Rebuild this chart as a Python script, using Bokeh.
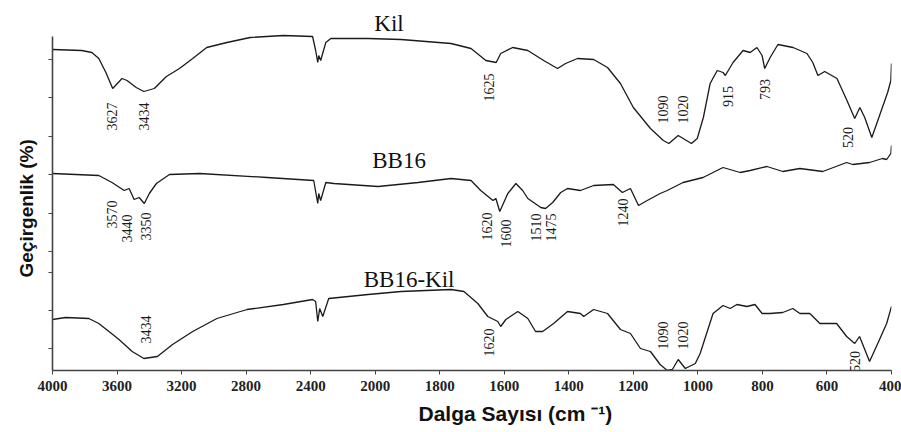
from math import pi
from bokeh.plotting import figure
from bokeh.models import (ColumnDataSource, Range1d, FixedTicker, CustomJSTransform, Title)
from bokeh.transform import transform
from bokeh.core.properties import value
from bokeh.embed import file_html
from bokeh.resources import INLINE

# ---------------- data (wavenumber cm-1, relative transmittance incl. stacking offset) -----
kil_wn = [4000, 3819, 3756, 3713, 3669, 3627, 3569, 3538, 3481, 3434, 3369, 3294, 3213, 3131,
          3044, 2919, 2775, 2569, 2388, 2369, 2356, 2350, 2338, 2306, 2275, 2044, 1920, 1765,
          1703, 1657, 1625, 1611, 1574, 1527, 1478, 1435, 1410, 1373, 1323, 1280, 1240, 1200,
          1147, 1107, 1090, 1061, 1020, 1002, 983, 962, 940, 922, 915, 891, 860, 838, 817, 801,
          793, 776, 752, 705, 662, 644, 628, 607, 569, 538, 514, 498, 483, 461, 437, 412, 402, 400]
kil_t = [321, 320, 318, 312, 298, 282, 292, 290, 283, 279, 282, 294, 302, 312,
         323, 328, 333, 335, 334, 320, 308, 315, 310, 328, 332, 332, 331, 327,
         322, 310, 308, 317, 323, 320, 310, 302, 307, 312, 311, 303, 287, 263,
         242, 230, 227, 235, 227, 232, 253, 287, 300, 298, 295, 308, 320, 318, 323, 315,
         302, 313, 326, 323, 317, 308, 295, 299, 292, 270, 252, 263, 253, 233, 255, 278, 290, 307]

bb16_wn = [4000, 3713, 3631, 3556, 3525, 3494, 3463, 3431, 3400, 3356, 3275, 3088, 2669, 2381,
           2356, 2350, 2338, 2306, 2256, 1991, 1867, 1765, 1703, 1673, 1635, 1626, 1614, 1589,
           1564, 1543, 1527, 1509, 1487, 1472, 1450, 1425, 1404, 1364, 1323, 1262, 1234, 1209,
           1184, 1157, 1117, 1095, 1046, 984, 922, 869, 838, 786, 737, 684, 613, 539, 520, 468,
           428, 415, 402, 400]
bb16_t = [197, 195, 188, 180, 182, 171, 173, 167, 177, 187, 196, 197, 193, 190,
          167, 177, 170, 188, 187, 184, 188, 192, 190, 180, 170, 172, 159, 177,
          187, 180, 172, 168, 163, 162, 168, 178, 182, 180, 185, 186, 178, 182,
          165, 170, 177, 180, 188, 193, 203, 198, 200, 204, 199, 202, 199, 208, 206, 208,
          212, 211, 217, 225]

bbkil_wn = [4000, 3919, 3775, 3713, 3650, 3588, 3506, 3434, 3350, 3256, 3131, 2981, 2794, 2569,
            2388, 2369, 2356, 2344, 2325, 2288, 2044, 1920, 1765, 1725, 1682, 1651, 1620, 1611,
            1595, 1558, 1527, 1503, 1481, 1447, 1404, 1364, 1354, 1323, 1280, 1240, 1209, 1178,
            1147, 1117, 1095, 1079, 1061, 1039, 1008, 993, 971, 953, 922, 900, 879, 848, 823,
            801, 777, 737, 706, 684, 653, 622, 570, 539, 514, 499, 468, 437, 415, 400]
bbkil_t = [51, 53, 52, 47, 39, 31, 19, 12, 14, 26, 39, 52, 61, 66,
           71, 69, 49, 62, 54, 72, 76, 79, 81, 79, 67, 54, 49, 44,
           51, 59, 52, 39, 39, 47, 59, 57, 54, 61, 57, 41, 37, 22,
           19, 6, 0, 1, 11, 2, 7, 17, 39, 57, 65, 62, 66, 64, 66,
           57, 57, 58, 62, 57, 57, 47, 47, 34, 27, 34, 9, 31, 47, 64]

# peak labels: text, anchor wavenumber, anchor level
peak_text = ["3627", "3434", "1625", "1090", "1020", "915", "793", "520",
             "3570", "3440", "3350", "1620", "1600", "1510", "1475", "1240",
             "3434", "1620", "1090", "1020", "520"]
peak_wn = [3631, 3431, 1648, 1107, 1045, 906, 792, 536,
           3631, 3538, 3419, 1654, 1595, 1503, 1456, 1231,
           3419, 1648, 1107, 1045, 514]
peak_t = [254, 254, 283, 261, 261, 274, 281, 233,
          156, 142, 144, 144, 137, 143, 143, 158,
          41, 28, 35, 35, 9]

names = ["Kil", "BB16", "BB16-Kil"]
name_wn = [1957, 1926, 1895]
name_t = [347, 210, 91]

x_ticks = [4000, 3600, 3200, 2800, 2400, 2000, 1800, 1600, 1400, 1200, 1000, 800, 600, 400]
y_ticks = [311, 273, 234, 196, 157, 119, 98, 60, 22]


# the instrument's axis: 4000-2000 compressed to half scale
def axis_pos(w):
    return 2000 + (w - 2000) / 2 if w >= 2000 else w


brk = CustomJSTransform(
    func="return x >= 2000 ? 2000 + (x - 2000) / 2 : x",
    v_func="return xs.map((x) => x >= 2000 ? 2000 + (x - 2000) / 2 : x)")

p = figure(width=901, height=432, output_backend="svg", toolbar_location=None,
           x_range=Range1d(axis_pos(4000), axis_pos(400)), y_range=Range1d(0, 370),
           min_border_left=52, min_border_right=10, min_border_top=0, min_border_bottom=62)
p.outline_line_color = None
p.xgrid.visible = False
p.ygrid.visible = False
p.background_fill_color = "white"
p.border_fill_color = "white"

for wn, t in [(kil_wn, kil_t), (bb16_wn, bb16_t), (bbkil_wn, bbkil_t)]:
    src = ColumnDataSource(dict(wn=wn, t=t))
    p.line(x=transform("wn", brk), y="t", source=src, line_color="#1a1a1a", line_width=1.3)

psrc = ColumnDataSource(dict(wn=peak_wn, t=peak_t, s=peak_text))
p.text(x=transform("wn", brk), y="t", text="s", source=psrc, angle=pi / 2,
       text_align="center", text_baseline="middle", text_font=value("Liberation Serif"),
       text_font_size="14px", text_color="#1a1a1a")

nsrc = ColumnDataSource(dict(wn=name_wn, t=name_t, s=names))
p.text(x=transform("wn", brk), y="t", text="s", source=nsrc,
       text_align="center", text_baseline="alphabetic", text_font=value("Liberation Serif"),
       text_font_size="23px", text_color="#111111")

xa = p.xaxis[0]
xa.ticker = FixedTicker(ticks=[axis_pos(w) for w in x_ticks])
xa.major_label_overrides = {axis_pos(w): str(w) for w in x_ticks}
xa.major_label_text_font = "Liberation Serif"
xa.major_label_text_font_style = "bold"
xa.major_label_text_font_size = "15px"
xa.major_label_text_color = "#222222"
xa.major_label_standoff = 6
xa.major_tick_out = 4
xa.major_tick_in = 0
xa.minor_tick_line_color = None
xa.axis_line_color = "#444444"
xa.axis_line_width = 1.6
xa.major_tick_line_color = "#444444"

ya = p.yaxis[0]
ya.ticker = FixedTicker(ticks=y_ticks)
ya.major_label_overrides = {t: "" for t in y_ticks}
ya.major_label_standoff = 0
ya.bounds = (0, 334)
ya.major_tick_out = 4
ya.major_tick_in = 0
ya.minor_tick_line_color = None
ya.axis_line_color = "#444444"
ya.axis_line_width = 1.6
ya.major_tick_line_color = "#444444"

# axis titles placed where the reference has them
p.add_layout(Title(text="Dalga Sayısı (cm ⁻¹)", align="left", offset=366, standoff=12,
                   vertical_align="bottom",
                   text_font="Liberation Sans", text_font_style="bold", text_font_size="21px",
                   text_color="#111111"), "below")
p.add_layout(Title(text="Geçirgenlik (%)", align="left", offset=93, standoff=20,
                   vertical_align="top",
                   text_font="Liberation Sans", text_font_style="bold", text_font_size="19px",
                   text_color="#111111"), "left")

open("out.html", "w").write(file_html(p, INLINE))
